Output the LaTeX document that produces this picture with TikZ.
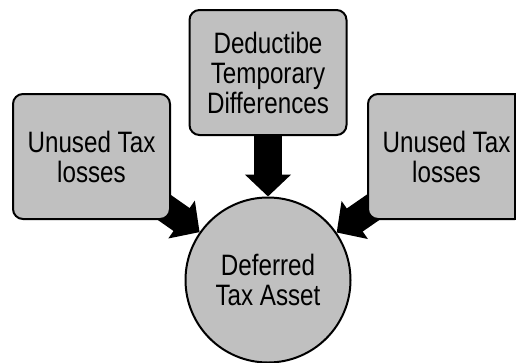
\documentclass[tikz,border=0pt]{standalone}
\usepackage{fontspec}
\setmainfont{Liberation Sans}[FakeStretch=0.82]
\usepackage{tikz}
\usetikzlibrary{arrows.meta,backgrounds}

\begin{document}
\begin{tikzpicture}[x=1pt,y=-1pt]
    \definecolor{boxgray}{RGB}{192,192,192}

    \tikzstyle{format}=[rectangle,rounded corners=10pt,draw,line width=2pt,fill=boxgray,
        minimum width=157pt,minimum height=125pt,align=center,inner sep=0pt,
        font=\fontsize{29.5}{30}\selectfont]  % grey boxes
    \tikzstyle{goal}=[circle,draw,line width=2pt,fill=boxgray,minimum size=165pt,
        align=center,inner sep=0pt,font=\fontsize{29.5}{30}\selectfont]  % the circle
    \tikzstyle{fat}=[line width=28pt,-{Triangle[width=45pt,length=22pt]}]  % block arrows

    \useasboundingbox (0,0) rectangle (516,362);
    \clip (0,0) rectangle (516,362);

    % nodes
    \node[format](diff) at (268,72.5){Deductibe\\Temporary\\Differences};
    \node[format](lossl) at (91.5,156.5){Unused Tax\\losses};
    \node[format](lossr) at (446.5,156.5){Unused Tax\\losses};
    \node[goal](dta) at (268,280){Deferred\\Tax Asset};
    \coordinate (edge) at (515,0);

    % arrows, behind the boxes
    \begin{pgfonlayer}{background}
        \draw[fat](diff.center)--(dta);
        \draw[fat](lossl.center)--(dta);
        \draw[fat](lossr.center)--(dta);
    \end{pgfonlayer}

    % right box is cut at the page edge
    \draw[line width=2pt](lossr.north -| edge)--(lossr.south -| edge);
\end{tikzpicture}
\end{document}
